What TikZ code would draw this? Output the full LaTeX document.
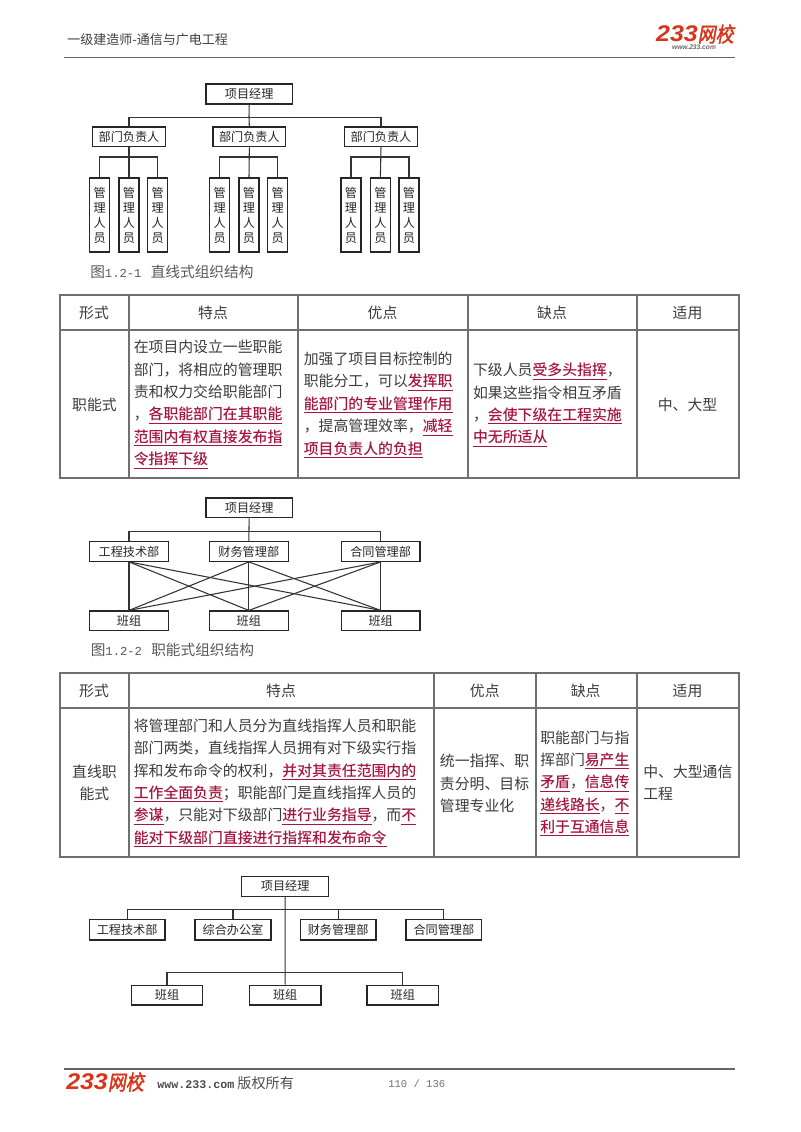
\documentclass[tikz,border=0pt]{standalone}
\usepackage{fontspec}
\setmainfont{Noto Sans CJK SC}[BoldFont={Noto Sans CJK SC Medium}]
\newfontfamily\latmono{Liberation Mono}
\newfontfamily\logolat{Liberation Sans}
\newfontfamily\logocjk[FakeSlant=0.2,FakeBold=2]{Noto Sans CJK SC}
\definecolor{hlred}{HTML}{A5163F}
\definecolor{bodytxt}{HTML}{3C3C3C}
\definecolor{gridc}{HTML}{707070}
\definecolor{logoc}{HTML}{D8341C}
\newcommand\hl[1]{\textcolor{hlred}{\bfseries\underline{#1}}}
\newcommand\numt[1]{{\latmono\fontsize{9.15}{13}\selectfont #1}\hspace{4.5pt}}
\newcommand\logotxt{\scalebox{1.1}[1]{\logolat\bfseries\itshape\fontsize{17}{17}\selectfont 233}\scalebox{1}[1.15]{\logocjk\fontsize{13.5}{13.5}\selectfont 网校}}
% \bx[style]{name}{x1}{y1}{x2}{y2}{text}
\newcommand\bx[7][]{%
  \pgfmathsetmacro\bxw{((#5)-(#3))*0.75}\pgfmathsetmacro\bxh{((#6)-(#4))*0.75}%
  \node[orgbox,#1,minimum width=\bxw pt,minimum height=\bxh pt] (#2) at ({((#3)+(#5))/2},{((#4)+(#6))/2}) {#7};}
\tikzset{
  orgbox/.style={draw=black!85,line width=0.9pt,fill=white,inner sep=0pt,text=black!85,align=center,
    font=\fontsize{9.1}{11.25}\selectfont},
  orgline/.style={draw=black!80,line width=0.8pt},
  gridline/.style={draw=gridc,line width=1.4pt},
  rule/.style={draw=black!60,line width=1pt},
  celltxt/.style={inner sep=0pt,text=bodytxt,align=left,font=\fontsize{11.15}{16.8}\selectfont},
  ctrtxt/.style={celltxt,align=center},
  caption/.style={inner sep=0pt,anchor=west,text=black!65,font=\fontsize{11}{13}\selectfont},
}
\begin{document}
\begin{tikzpicture}[x=0.75pt,y=-0.75pt]
\path[use as bounding box,fill=white] (0,0) rectangle (800,1132);

% header
\node[inner sep=0pt,anchor=west,text=black!75,font=\fontsize{9.75}{12}\selectfont] (hdr) at (67,40) {一级建造师-通信与广电工程};
\node[inner sep=0pt,anchor=east,text=logoc] (logoA) at (734,34) {\logotxt};
\node[inner sep=0pt,text=black!60,font=\logolat\bfseries\itshape\fontsize{5}{6}\selectfont] (logoB) at (694,47.5) {www.233.com};
\coordinate (hrL) at (64.4,57.7); \coordinate (hrR) at (735,57.7);
\draw[rule] (hrL) -- (hrR);

% diagram 1
\bx{ta}{206}{84}{292.4}{104}{项目经理}
\bx{da1}{92.4}{127}{165.6}{146.7}{部门负责人}
\bx{da2}{213}{127}{285.7}{146.7}{部门负责人}
\bx{da3}{344.6}{127}{417.4}{146.7}{部门负责人}
\coordinate (busa) at (249,117.3);
\draw[orgline] (ta.south) -- (busa);
\draw[orgline] (da1.north) |- (busa) -| (da3.north);
\draw[orgline] (busa) -- (da2.north);
\newcommand\mgr[2]{\bx{#1}{#2-10}{178}{#2+10}{252}{管\\理\\人\\员}}
\mgr{ma1}{99.6}\mgr{ma2}{129}\mgr{ma3}{157.6}
\mgr{mb1}{219.6}\mgr{mb2}{249}\mgr{mb3}{277.7}
\mgr{mc1}{351}\mgr{mc2}{380.4}\mgr{mc3}{409}
\coordinate (sa) at (129,157); \coordinate (sb) at (249,157); \coordinate (sc) at (380.4,157);
\draw[orgline] (da1.south) -- (ma2.north);
\draw[orgline] (ma1.north) |- (sa) -| (ma3.north);
\draw[orgline] (da2.south) -- (mb2.north);
\draw[orgline] (mb1.north) |- (sb) -| (mb3.north);
\draw[orgline] (da3.south) -- (mc2.north);
\draw[orgline] (mc1.north) |- (sc) -| (mc3.north);
\node[caption] (capa) at (90,271.5) {图\numt{1.2-1} 直线式组织结构};

% table 1
\draw[gridline] (60.3,295) rectangle (739,477.7);
\draw[gridline] (60.3,330.3) -- (739,330.3);
\foreach \tx in {129,297.8,467.9,637}{\draw[gridline] (\tx,295) -- (\tx,477.7);}
\node[ctrtxt] (h11) at (94,313) {形式};
\node[ctrtxt] (h12) at (213,313) {特点};
\node[ctrtxt] (h13) at (382.6,313) {优点};
\node[ctrtxt] (h14) at (552,313) {缺点};
\node[ctrtxt] (h15) at (687.5,313) {适用};
\node[ctrtxt] (c11) at (94.5,405) {职能式};
\node[celltxt,anchor=west] (c12) at (133.5,404.5) {在项目内设立一些职能\\部门，将相应的管理职\\责和权力交给职能部门\\，\hl{各职能部门在其职能}\\\hl{范围内有权直接发布指}\\\hl{令指挥下级}};
\node[celltxt,anchor=west] (c13) at (303.6,405) {加强了项目目标控制的\\职能分工，可以\hl{发挥职}\\\hl{能部门的专业管理作用}\\，提高管理效率，\hl{减轻}\\\hl{项目负责人的负担}};
\node[celltxt,anchor=west] (c14) at (472.8,405) {下级人员\hl{受多头指挥}，\\如果这些指令相互矛盾\\，\hl{会使下级在工程实施}\\\hl{中无所适从}};
\node[ctrtxt] (c15) at (687.5,405) {中、大型};

% diagram 2
\bx{tb}{206}{498}{292.3}{517.7}{项目经理}
\bx{db1}{89.3}{541.7}{168.7}{561.3}{工程技术部}
\bx{db2}{209.3}{541.7}{288.3}{561.3}{财务管理部}
\bx{db3}{341.3}{541.7}{420}{561.3}{合同管理部}
\bx{gb1}{89.3}{611}{168.7}{630.7}{班组}
\bx{gb2}{209.3}{611}{288.3}{630.7}{班组}
\bx{gb3}{341.3}{611}{420}{630.7}{班组}
\coordinate (busb) at (249,531.7);
\draw[orgline] (tb.south) -- (db2.north);
\draw[orgline] (db1.north) |- (busb) -| (db3.north);
\foreach \da in {db1,db2,db3}{\foreach \gb in {gb1,gb2,gb3}{\draw[orgline] (\da.south) -- (\gb.north);}}
\node[caption] (capb) at (90.5,650) {图\numt{1.2-2} 职能式组织结构};

% table 2
\draw[gridline] (60.3,673) rectangle (739,856.7);
\draw[gridline] (60.3,708.3) -- (739,708.3);
\foreach \tx in {129,434,535.7,637}{\draw[gridline] (\tx,673) -- (\tx,856.7);}
\node[ctrtxt] (h21) at (94,690.7) {形式};
\node[ctrtxt] (h22) at (281,690.7) {特点};
\node[ctrtxt] (h23) at (484.8,690.7) {优点};
\node[ctrtxt] (h24) at (585.7,690.7) {缺点};
\node[ctrtxt] (h25) at (687.5,690.7) {适用};
\node[ctrtxt] (c21) at (94.5,783) {直线职\\能式};
\node[celltxt,anchor=west] (c22) at (133.5,783) {将管理部门和人员分为直线指挥人员和职能\\部门两类，直线指挥人员拥有对下级实行指\\挥和发布命令的权利，\hl{并对其责任范围内的}\\\hl{工作全面负责}；职能部门是直线指挥人员的\\\hl{参谋}，只能对下级部门\hl{进行业务指导}，而\hl{不}\\\hl{能对下级部门直接进行指挥和发布命令}};
\node[celltxt,anchor=west] (c23) at (439.7,783.5) {统一指挥、职\\责分明、目标\\管理专业化};
\node[celltxt,anchor=west] (c24) at (540,783.5) {职能部门与指\\挥部门\hl{易产生}\\\hl{矛盾}，\hl{信息传}\\\hl{递线路长}，\hl{不}\\\hl{利于互通信息}};
\node[celltxt,anchor=west] (c25) at (643,783) {中、大型通信\\工程};

% diagram 3
\bx{tc}{241.7}{876.3}{328.7}{896.3}{项目经理}
\bx{dc1}{89.3}{919.7}{165}{940}{工程技术部}
\bx{dc2}{195}{919.7}{271}{940}{综合办公室}
\bx{dc3}{300.3}{919.7}{376}{940}{财务管理部}
\bx{dc4}{406}{919.7}{481.7}{940}{合同管理部}
\bx{gc1}{131.3}{985.3}{202.7}{1005}{班组}
\bx{gc2}{249.3}{985.3}{321}{1005}{班组}
\bx{gc3}{367}{985.3}{438.7}{1005}{班组}
\coordinate (busc) at (285.2,909.3);
\coordinate (bust) at (285.2,972.7);
\draw[orgline] (tc.south) -- (gc2.north);
\draw[orgline] (dc1.north) |- (busc) -| (dc4.north);
\draw[orgline] (dc2.north) -- (dc2.north |- busc);
\draw[orgline] (dc3.north) -- (dc3.north |- busc);
\draw[orgline] (gc1.north) |- (bust) -| (gc3.north);

% footer
\coordinate (frL) at (64.4,1069); \coordinate (frR) at (735,1069);
\draw[rule] (frL) -- (frR);
\node[inner sep=0pt,anchor=west,text=logoc] (logoC) at (66,1082) {\logotxt};
\node[inner sep=0pt,anchor=west,text=black!70,font=\fontsize{10.6}{12}\selectfont] (ftr) at (157,1083) {{\latmono\bfseries\fontsize{8.75}{12}\selectfont www.233.com} 版权所有};
\node[inner sep=0pt,anchor=west,text=black!55,font=\latmono\fontsize{7.9}{10}\selectfont] (pg) at (388,1084) {110 / 136};
\end{tikzpicture}
\end{document}
